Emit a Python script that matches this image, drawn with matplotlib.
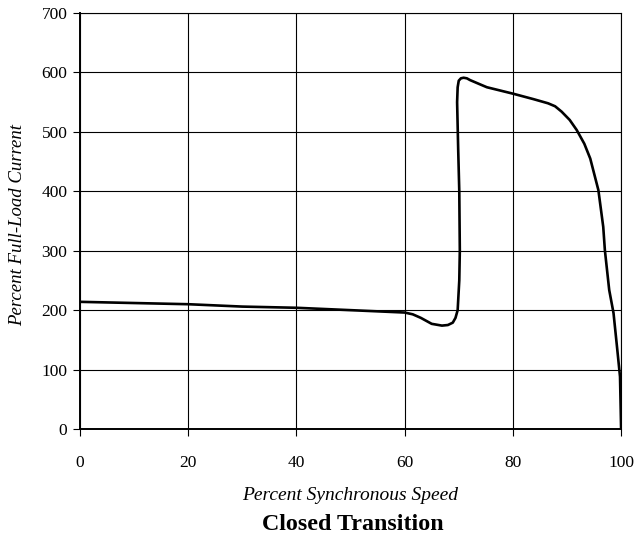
import matplotlib.pyplot as plt

# Percent synchronous speed vs percent full-load current (closed transition)
speed = [0, 10, 20, 30, 40, 50, 60, 61.5, 63, 65, 66.9, 68, 68.9, 69.4, 69.8,
         70.1, 70.2, 70.1, 69.9, 69.7, 69.8, 70.0, 70.4, 70.9, 71.5, 72.1,
         73.9, 75.2, 80.1, 83.8, 86.5, 87.8, 89.0, 90.5, 91.8, 93.2, 94.3,
         95.8, 96.7, 97.0, 97.8, 98.6, 99.3, 99.8, 100]
current = [214, 212, 210, 206, 204, 200, 196, 193, 187, 177, 174, 175, 179, 187, 200,
           250, 300, 400, 470, 550, 575, 586, 590, 591, 590, 587,
           580, 575, 564, 555, 548, 543, 534, 520, 503, 480, 455,
           402, 340, 301, 234, 195, 133, 88, 0]

serif = ['Liberation Serif', 'DejaVu Serif']

fig = plt.figure(figsize=(6.39, 5.39), dpi=100)
ax = fig.add_axes([0.125, 0.204, 0.847, 0.772])

ax.plot(speed, current, color='black', linewidth=1.9, solid_joinstyle='round')

ax.set_xlim(0, 100)
ax.set_ylim(0, 700)
ax.set_xticks(range(0, 101, 20))
ax.set_yticks(range(0, 701, 100))
ax.grid(True, color='black', linewidth=0.8)
ax.set_axisbelow(True)
ax.tick_params(direction='out', length=5, width=0.8, color='black')
ax.tick_params(axis='x', pad=13.5)
ax.tick_params(axis='y', pad=4)
for lab in ax.get_xticklabels() + ax.get_yticklabels():
    lab.set_family(serif)
    lab.set_fontsize(12.5)
for side in ['left', 'bottom']:
    ax.spines[side].set_linewidth(1.4)
for side in ['top', 'right']:
    ax.spines[side].set_linewidth(0.8)

fig.text(0.028, 0.583, 'Percent Full-Load Current', family=serif, style='italic',
         fontsize=13.5, rotation=90, ha='center', va='center')
fig.text(0.548, 0.081, 'Percent Synchronous Speed', family=serif, style='italic',
         fontsize=14, ha='center', va='center')
fig.text(0.552, 0.027, 'Closed Transition', family=serif, fontweight='bold',
         fontsize=17.3, ha='center', va='center')

fig.savefig('out.png', dpi=100)
